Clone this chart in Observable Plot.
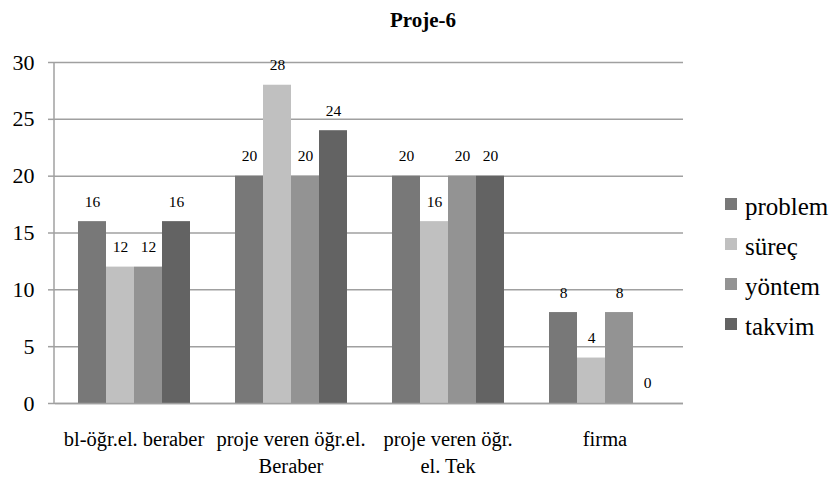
<!DOCTYPE html>
<html>
<head>
<meta charset="utf-8">
<script src="https://cdn.jsdelivr.net/npm/d3@7"></script>
<script src="https://cdn.jsdelivr.net/npm/@observablehq/plot@0.6"></script>
<style>
  body { margin: 0; background: #fff; }
  #wrap { position: relative; width: 838px; height: 483px; }
  #wrap, #wrap * { font-family: "Liberation Serif", "Times New Roman", "DejaVu Serif", serif; }
  #title { position: absolute; left: 0; width: 838px; top: 7px; text-align: center; padding-left: 4px; font-weight: bold; font-size: 21px; line-height: 26px; }
  #legend { position: absolute; left: 725px; top: 187px; font-size: 25px; color: #000; }
  .li { display: flex; align-items: center; height: 40px; }
  .sw { width: 12px; height: 12px; margin-right: 8px; margin-top: -6px; flex: none; }
</style>
</head>
<body>
<div id="wrap">
  <div id="chart"></div>
  <div id="title">Proje-6</div>
  <div id="legend"></div>
</div>
<script>
const categories = ["bl-öğr.el. beraber", "proje veren öğr.el. Beraber", "proje veren öğr. el. Tek", "firma"];
const categoryLabels = ["bl-öğr.el. beraber", "proje veren öğr.el.\nBeraber", "proje veren öğr.\nel. Tek", "firma"];
const seriesNames = ["problem", "süreç", "yöntem", "takvim"];
const problem = [16, 20, 20, 8];
const surec = [12, 28, 16, 4];
const yontem = [12, 20, 20, 8];
const takvim = [16, 24, 20, 0];
const colors = ["#787878", "#c0c0c0", "#939393", "#636363"];
const yTicks = [0, 5, 10, 15, 20, 25, 30];

const FONT = "Liberation Serif";
const seriesValues = [problem, surec, yontem, takvim];
const data = [];
categories.forEach((c, i) => {
  seriesNames.forEach((s, j) => data.push({category: c, series: s, value: seriesValues[j][i]}));
});
const labelOf = new Map(categories.map((c, i) => [c, categoryLabels[i]]));

const chart = Plot.plot({
  width: 838,
  height: 483,
  marginLeft: 54,
  marginRight: 154,
  marginTop: 62,
  marginBottom: 80,
  style: {fontFamily: FONT, background: "#fff"},
  fx: {domain: categories, padding: 0, label: null},
  x: {domain: seriesNames, paddingInner: 0, paddingOuter: 0.72, axis: null},
  y: {domain: [0, 30], label: null},
  color: {domain: seriesNames, range: colors},
  marks: [
    Plot.gridY(yTicks, {stroke: "#a0a0a0", strokeOpacity: 1, strokeWidth: 1.5}),
    Plot.barY(data, {fx: "category", x: "series", y: "value", fill: "series"}),
    Plot.text(data, {fx: "category", x: "series", y: "value", text: d => String(d.value), dy: -20, fontSize: 15.5, fill: "#000", fontFamily: FONT}),
    Plot.ruleY([0], {stroke: "#a0a0a0", strokeWidth: 1.5}),
    Plot.axisY({ticks: yTicks, tickSize: 7, tickPadding: 14, fontSize: 22, stroke: "#a0a0a0", strokeWidth: 1.5, fill: "#000", fontFamily: FONT, label: null}),
    Plot.axisFx({anchor: "bottom", tickSize: 0, tickPadding: 23, fontSize: 20.5, lineHeight: 1.33, fill: "#000", fontFamily: FONT, tickFormat: c => labelOf.get(c), label: null})
  ]
});
document.getElementById("chart").appendChild(chart);
const svg = d3.select(chart);
svg.append("line").attr("x1", 54).attr("x2", 54).attr("y1", 62).attr("y2", 403)
  .attr("stroke", "#a0a0a0").attr("stroke-width", 1.5);

const legend = document.getElementById("legend");
seriesNames.forEach((s, i) => {
  const row = document.createElement("div");
  row.className = "li";
  const sw = document.createElement("div");
  sw.className = "sw";
  sw.style.background = colors[i];
  const t = document.createElement("span");
  t.textContent = s;
  row.appendChild(sw); row.appendChild(t);
  legend.appendChild(row);
});
</script>
</body>
</html>
